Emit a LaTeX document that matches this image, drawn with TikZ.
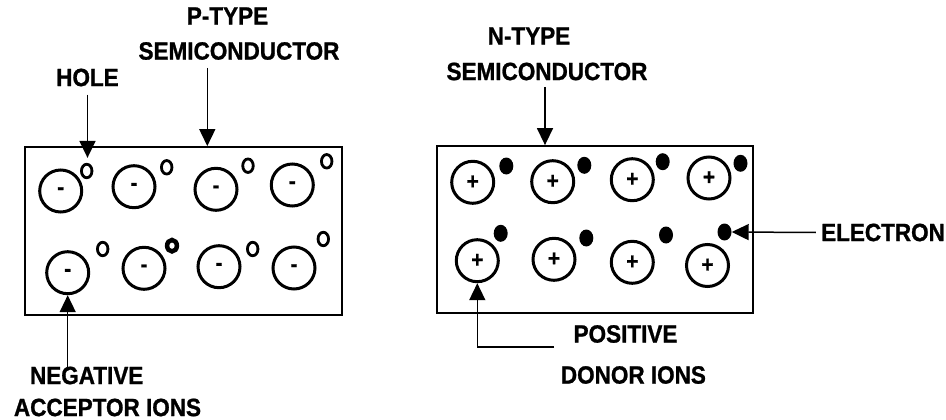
\documentclass[tikz,border=0pt]{standalone}
\usepackage{fontspec}
\newfontfamily\diagfont{Liberation Sans Bold}[FakeStretch=0.9, FakeBold=1]
\usetikzlibrary{arrows.meta,shapes.geometric}

\begin{document}
\begin{tikzpicture}[x=1pt, y=1pt,
  lbl/.style={inner sep=0pt, font=\diagfont\fontsize{25}{30}\selectfont},
  crystal/.style={draw, line width=1.8pt, inner sep=0pt},
  ion/.style={circle, draw, line width=3pt, minimum size=42pt, inner sep=0pt, font=\diagfont\fontsize{23}{27}\selectfont},
  hole/.style={ellipse, draw, line width=2.8pt, minimum width=10.5pt, minimum height=13.5pt, inner sep=0pt},
  electron/.style={ellipse, fill, minimum width=14pt, minimum height=17pt, inner sep=0pt},
  pointer/.style={line width=1.5pt, -{Triangle[length=17pt, width=16pt]}}]

  \useasboundingbox (0, 0) rectangle (946, -420);

  \node[crystal, minimum width=317pt, minimum height=168pt] (pbox) at (183.5, -231) {};
  \node[crystal, minimum width=316pt, minimum height=167pt] (nbox) at (595, -229.5) {};

  \node[ion] (pa1) at (60.7, -191) {-};
  \node[ion] (pa2) at (134, -186.7) {-};
  \node[ion] (pa3) at (216, -189.3) {-};
  \node[ion] (pa4) at (292.3, -185) {-};
  \node[ion] (pa5) at (67.7, -272.7) {-};
  \node[ion] (pa6) at (144, -268.3) {-};
  \node[ion] (pa7) at (219, -266.7) {-};
  \node[ion] (pa8) at (294, -268) {-};

  \node[hole] (h1) at (86.7, -171) {};
  \node[hole] (h2) at (166.7, -167.3) {};
  \node[hole] (h3) at (248, -165.7) {};
  \node[hole] (h4) at (326.7, -161.3) {};
  \node[hole] (h5) at (102.7, -249) {};
  \node[hole, line width=4.5pt, minimum width=9.8pt, minimum height=11.5pt] (h6) at (172, -245.7) {};
  \node[hole] (h7) at (252.7, -249) {};
  \node[hole] (h8) at (323.3, -239) {};

  \node[ion] (nd1) at (472.7, -182.3) {+};
  \node[ion] (nd2) at (552.7, -181.7) {+};
  \node[ion] (nd3) at (632.3, -179.7) {+};
  \node[ion] (nd4) at (709, -178) {+};
  \node[ion] (nd5) at (477.3, -260.7) {+};
  \node[ion] (nd6) at (554, -259.3) {+};
  \node[ion] (nd7) at (632.3, -262.3) {+};
  \node[ion] (nd8) at (707.5, -265.5) {+};

  \node[electron] (e1) at (506.3, -166) {};
  \node[electron] (e2) at (584.3, -165.3) {};
  \node[electron] (e3) at (662.7, -161.7) {};
  \node[electron] (e4) at (740.5, -163.3) {};
  \node[electron] (e5) at (500.7, -233.3) {};
  \node[electron] (e6) at (586.3, -238) {};
  \node[electron] (e7) at (666, -235) {};
  \node[electron] (e8) at (724.5, -232) {};

  \node[lbl] (holelbl) at (87.5, -77.5) {HOLE};
  \node[lbl] (ptype) at (227.5, -16) {P-TYPE};
  \node[lbl] (psemi) at (239, -51) {SEMICONDUCTOR};
  \node[lbl] (ntype) at (529, -36) {N-TYPE};
  \node[lbl] (nsemi) at (547, -71.5) {SEMICONDUCTOR};
  \node[lbl] (elbl) at (883, -232.5) {ELECTRON};
  \node[lbl] (poslbl) at (625.5, -334) {POSITIVE};
  \node[lbl, anchor=west] (donlbl) at (560.7, -375) {DONOR IONS};
  \node[lbl] (neglbl) at (86.7, -375.5) {NEGATIVE};
  \node[lbl] (acclbl) at (107.5, -407.5) {ACCEPTOR IONS};

  \coordinate (pin) at (207.3, -68);
  \coordinate (nin) at (545, -87);
  \coordinate (din) at (554, -347);

  \draw[pointer] ([yshift=-8pt]holelbl.south) -- ([yshift=5pt]holelbl.south |- h1.north);
  \draw[pointer] (pin) -- (pin |- pbox.north);
  \draw[pointer] (nin) -- (nin |- nbox.north);
  \draw[pointer] ([xshift=-5pt]elbl.west) -- (e8.east);
  \draw[pointer] (din) -| (nd5.south);
  \draw[pointer] ([yshift=-3pt]pa5.south |- neglbl.north) -- (pa5.south);

\end{tikzpicture}
\end{document}
